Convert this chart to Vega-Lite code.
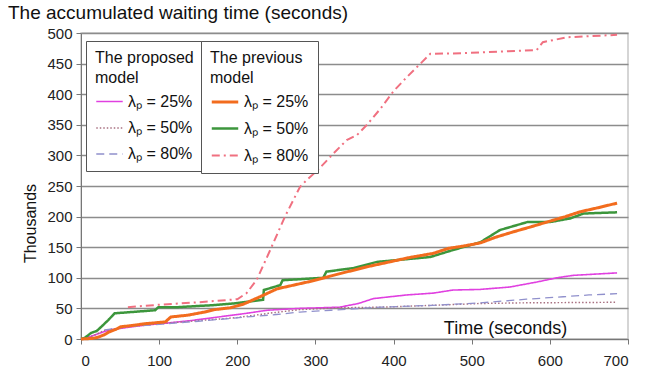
{
  "$schema": "https://vega.github.io/schema/vega-lite/v6.json",
  "width": 547,
  "height": 306,
  "autosize": {"type": "none"},
  "padding": {"left": 81, "top": 33, "right": 23, "bottom": 32},
  "background": "white",
  "title": {
    "text": "The accumulated waiting time (seconds)",
    "anchor": "start",
    "frame": "group",
    "dx": -73,
    "dy": 23,
    "offset": 11,
    "baseline": "alphabetic",
    "font": "Liberation Sans",
    "fontSize": 19,
    "fontWeight": "normal",
    "color": "#111"
  },
  "config": {
    "font": "Liberation Sans",
    "view": {"stroke": "#c8c8c8", "strokeWidth": 1.5},
    "axis": {
      "labelFont": "Liberation Sans",
      "labelFontSize": 15,
      "labelColor": "#222",
      "titleFont": "Liberation Sans",
      "titleFontWeight": "normal",
      "titleColor": "#111",
      "domainColor": "#777",
      "tickColor": "#777",
      "tickSize": 5
    },
    "legend": {
      "labelFont": "Liberation Sans",
      "titleFont": "Liberation Sans"
    }
  },
  "datasets": {
    "lines": [
      {"m": "proposed", "s": "λₚ = 25%", "t": 0, "v": 0},
      {"m": "proposed", "s": "λₚ = 25%", "t": 12, "v": 4},
      {"m": "proposed", "s": "λₚ = 25%", "t": 25, "v": 10},
      {"m": "proposed", "s": "λₚ = 25%", "t": 37, "v": 15},
      {"m": "proposed", "s": "λₚ = 25%", "t": 60, "v": 19},
      {"m": "proposed", "s": "λₚ = 25%", "t": 85, "v": 23},
      {"m": "proposed", "s": "λₚ = 25%", "t": 110, "v": 26},
      {"m": "proposed", "s": "λₚ = 25%", "t": 140, "v": 30},
      {"m": "proposed", "s": "λₚ = 25%", "t": 170, "v": 35},
      {"m": "proposed", "s": "λₚ = 25%", "t": 212, "v": 42},
      {"m": "proposed", "s": "λₚ = 25%", "t": 238, "v": 47},
      {"m": "proposed", "s": "λₚ = 25%", "t": 280, "v": 50},
      {"m": "proposed", "s": "λₚ = 25%", "t": 331, "v": 52},
      {"m": "proposed", "s": "λₚ = 25%", "t": 355, "v": 58},
      {"m": "proposed", "s": "λₚ = 25%", "t": 374, "v": 66},
      {"m": "proposed", "s": "λₚ = 25%", "t": 417, "v": 72},
      {"m": "proposed", "s": "λₚ = 25%", "t": 451, "v": 75},
      {"m": "proposed", "s": "λₚ = 25%", "t": 476, "v": 80},
      {"m": "proposed", "s": "λₚ = 25%", "t": 511, "v": 81},
      {"m": "proposed", "s": "λₚ = 25%", "t": 549, "v": 85},
      {"m": "proposed", "s": "λₚ = 25%", "t": 583, "v": 93},
      {"m": "proposed", "s": "λₚ = 25%", "t": 609, "v": 100},
      {"m": "proposed", "s": "λₚ = 25%", "t": 630, "v": 104},
      {"m": "proposed", "s": "λₚ = 25%", "t": 686, "v": 108},

      {"m": "proposed", "s": "λₚ = 50%", "t": 0, "v": 0},
      {"m": "proposed", "s": "λₚ = 50%", "t": 15, "v": 5},
      {"m": "proposed", "s": "λₚ = 50%", "t": 30, "v": 14},
      {"m": "proposed", "s": "λₚ = 50%", "t": 60, "v": 20},
      {"m": "proposed", "s": "λₚ = 50%", "t": 100, "v": 25},
      {"m": "proposed", "s": "λₚ = 50%", "t": 150, "v": 30},
      {"m": "proposed", "s": "λₚ = 50%", "t": 200, "v": 35},
      {"m": "proposed", "s": "λₚ = 50%", "t": 240, "v": 42},
      {"m": "proposed", "s": "λₚ = 50%", "t": 280, "v": 48},
      {"m": "proposed", "s": "λₚ = 50%", "t": 331, "v": 51},
      {"m": "proposed", "s": "λₚ = 50%", "t": 383, "v": 52},
      {"m": "proposed", "s": "λₚ = 50%", "t": 450, "v": 55},
      {"m": "proposed", "s": "λₚ = 50%", "t": 511, "v": 58},
      {"m": "proposed", "s": "λₚ = 50%", "t": 560, "v": 59},
      {"m": "proposed", "s": "λₚ = 50%", "t": 686, "v": 60},

      {"m": "proposed", "s": "λₚ = 80%", "t": 30, "v": 15},
      {"m": "proposed", "s": "λₚ = 80%", "t": 60, "v": 20},
      {"m": "proposed", "s": "λₚ = 80%", "t": 100, "v": 24},
      {"m": "proposed", "s": "λₚ = 80%", "t": 150, "v": 29},
      {"m": "proposed", "s": "λₚ = 80%", "t": 212, "v": 36},
      {"m": "proposed", "s": "λₚ = 80%", "t": 250, "v": 40},
      {"m": "proposed", "s": "λₚ = 80%", "t": 280, "v": 44},
      {"m": "proposed", "s": "λₚ = 80%", "t": 320, "v": 47},
      {"m": "proposed", "s": "λₚ = 80%", "t": 357, "v": 50},
      {"m": "proposed", "s": "λₚ = 80%", "t": 383, "v": 52},
      {"m": "proposed", "s": "λₚ = 80%", "t": 450, "v": 55},
      {"m": "proposed", "s": "λₚ = 80%", "t": 511, "v": 59},
      {"m": "proposed", "s": "λₚ = 80%", "t": 540, "v": 62},
      {"m": "proposed", "s": "λₚ = 80%", "t": 570, "v": 65},
      {"m": "proposed", "s": "λₚ = 80%", "t": 617, "v": 69},
      {"m": "proposed", "s": "λₚ = 80%", "t": 650, "v": 72},
      {"m": "proposed", "s": "λₚ = 80%", "t": 686, "v": 74},

      {"m": "previous", "s": "λₚ = 80%", "t": 60, "v": 52},
      {"m": "previous", "s": "λₚ = 80%", "t": 100, "v": 56},
      {"m": "previous", "s": "λₚ = 80%", "t": 150, "v": 60},
      {"m": "previous", "s": "λₚ = 80%", "t": 200, "v": 65},
      {"m": "previous", "s": "λₚ = 80%", "t": 212, "v": 75},
      {"m": "previous", "s": "λₚ = 80%", "t": 225, "v": 97},
      {"m": "previous", "s": "λₚ = 80%", "t": 242, "v": 145},
      {"m": "previous", "s": "λₚ = 80%", "t": 261, "v": 200},
      {"m": "previous", "s": "λₚ = 80%", "t": 280, "v": 248},
      {"m": "previous", "s": "λₚ = 80%", "t": 289, "v": 260},
      {"m": "previous", "s": "λₚ = 80%", "t": 303, "v": 276},
      {"m": "previous", "s": "λₚ = 80%", "t": 323, "v": 303},
      {"m": "previous", "s": "λₚ = 80%", "t": 340, "v": 325},
      {"m": "previous", "s": "λₚ = 80%", "t": 353, "v": 333},
      {"m": "previous", "s": "λₚ = 80%", "t": 366, "v": 350},
      {"m": "previous", "s": "λₚ = 80%", "t": 383, "v": 376},
      {"m": "previous", "s": "λₚ = 80%", "t": 400, "v": 405},
      {"m": "previous", "s": "λₚ = 80%", "t": 417, "v": 428},
      {"m": "previous", "s": "λₚ = 80%", "t": 436, "v": 452},
      {"m": "previous", "s": "λₚ = 80%", "t": 447, "v": 466},
      {"m": "previous", "s": "λₚ = 80%", "t": 489, "v": 467},
      {"m": "previous", "s": "λₚ = 80%", "t": 583, "v": 472},
      {"m": "previous", "s": "λₚ = 80%", "t": 591, "v": 485},
      {"m": "previous", "s": "λₚ = 80%", "t": 622, "v": 493},
      {"m": "previous", "s": "λₚ = 80%", "t": 686, "v": 497},

      {"m": "previous", "s": "λₚ = 50%", "t": 0, "v": 0},
      {"m": "previous", "s": "λₚ = 50%", "t": 5, "v": 2},
      {"m": "previous", "s": "λₚ = 50%", "t": 13, "v": 10},
      {"m": "previous", "s": "λₚ = 50%", "t": 20, "v": 13},
      {"m": "previous", "s": "λₚ = 50%", "t": 26, "v": 20},
      {"m": "previous", "s": "λₚ = 50%", "t": 35, "v": 31},
      {"m": "previous", "s": "λₚ = 50%", "t": 43, "v": 42},
      {"m": "previous", "s": "λₚ = 50%", "t": 64, "v": 44},
      {"m": "previous", "s": "λₚ = 50%", "t": 95, "v": 47},
      {"m": "previous", "s": "λₚ = 50%", "t": 99, "v": 52},
      {"m": "previous", "s": "λₚ = 50%", "t": 124, "v": 52},
      {"m": "previous", "s": "λₚ = 50%", "t": 150, "v": 54},
      {"m": "previous", "s": "λₚ = 50%", "t": 166, "v": 55},
      {"m": "previous", "s": "λₚ = 50%", "t": 195, "v": 58},
      {"m": "previous", "s": "λₚ = 50%", "t": 233, "v": 64},
      {"m": "previous", "s": "λₚ = 50%", "t": 234, "v": 80},
      {"m": "previous", "s": "λₚ = 50%", "t": 255, "v": 88},
      {"m": "previous", "s": "λₚ = 50%", "t": 258, "v": 96},
      {"m": "previous", "s": "λₚ = 50%", "t": 310, "v": 100},
      {"m": "previous", "s": "λₚ = 50%", "t": 314, "v": 110},
      {"m": "previous", "s": "λₚ = 50%", "t": 349, "v": 116},
      {"m": "previous", "s": "λₚ = 50%", "t": 379, "v": 126},
      {"m": "previous", "s": "λₚ = 50%", "t": 447, "v": 134},
      {"m": "previous", "s": "λₚ = 50%", "t": 475, "v": 145},
      {"m": "previous", "s": "λₚ = 50%", "t": 511, "v": 158},
      {"m": "previous", "s": "λₚ = 50%", "t": 536, "v": 178},
      {"m": "previous", "s": "λₚ = 50%", "t": 571, "v": 191},
      {"m": "previous", "s": "λₚ = 50%", "t": 600, "v": 191},
      {"m": "previous", "s": "λₚ = 50%", "t": 626, "v": 197},
      {"m": "previous", "s": "λₚ = 50%", "t": 643, "v": 205},
      {"m": "previous", "s": "λₚ = 50%", "t": 686, "v": 207},

      {"m": "previous", "s": "λₚ = 25%", "t": 0, "v": 0},
      {"m": "previous", "s": "λₚ = 25%", "t": 15, "v": 1},
      {"m": "previous", "s": "λₚ = 25%", "t": 22, "v": 3},
      {"m": "previous", "s": "λₚ = 25%", "t": 30, "v": 7},
      {"m": "previous", "s": "λₚ = 25%", "t": 35, "v": 11},
      {"m": "previous", "s": "λₚ = 25%", "t": 45, "v": 16},
      {"m": "previous", "s": "λₚ = 25%", "t": 51, "v": 20},
      {"m": "previous", "s": "λₚ = 25%", "t": 65, "v": 22},
      {"m": "previous", "s": "λₚ = 25%", "t": 82, "v": 25},
      {"m": "previous", "s": "λₚ = 25%", "t": 108, "v": 28},
      {"m": "previous", "s": "λₚ = 25%", "t": 115, "v": 36},
      {"m": "previous", "s": "λₚ = 25%", "t": 137, "v": 39},
      {"m": "previous", "s": "λₚ = 25%", "t": 158, "v": 44},
      {"m": "previous", "s": "λₚ = 25%", "t": 171, "v": 48},
      {"m": "previous", "s": "λₚ = 25%", "t": 191, "v": 51},
      {"m": "previous", "s": "λₚ = 25%", "t": 208, "v": 57},
      {"m": "previous", "s": "λₚ = 25%", "t": 229, "v": 69},
      {"m": "previous", "s": "λₚ = 25%", "t": 251, "v": 82},
      {"m": "previous", "s": "λₚ = 25%", "t": 293, "v": 94},
      {"m": "previous", "s": "λₚ = 25%", "t": 335, "v": 108},
      {"m": "previous", "s": "λₚ = 25%", "t": 366, "v": 118},
      {"m": "previous", "s": "λₚ = 25%", "t": 395, "v": 126},
      {"m": "previous", "s": "λₚ = 25%", "t": 420, "v": 133},
      {"m": "previous", "s": "λₚ = 25%", "t": 451, "v": 140},
      {"m": "previous", "s": "λₚ = 25%", "t": 470, "v": 148},
      {"m": "previous", "s": "λₚ = 25%", "t": 490, "v": 152},
      {"m": "previous", "s": "λₚ = 25%", "t": 511, "v": 157},
      {"m": "previous", "s": "λₚ = 25%", "t": 530, "v": 166},
      {"m": "previous", "s": "λₚ = 25%", "t": 553, "v": 175},
      {"m": "previous", "s": "λₚ = 25%", "t": 575, "v": 183},
      {"m": "previous", "s": "λₚ = 25%", "t": 596, "v": 191},
      {"m": "previous", "s": "λₚ = 25%", "t": 620, "v": 200},
      {"m": "previous", "s": "λₚ = 25%", "t": 639, "v": 208},
      {"m": "previous", "s": "λₚ = 25%", "t": 660, "v": 214},
      {"m": "previous", "s": "λₚ = 25%", "t": 686, "v": 222}
    ]
  },
  "data": {"name": "lines"},
  "encoding": {
    "x": {
      "field": "t", "type": "quantitative",
      "scale": {"domain": [0, 700], "nice": false},
      "axis": {
        "values": [0, 100, 200, 300, 400, 500, 600, 700],
        "grid": false,
        "labelPadding": 9,
        "title": "Time (seconds)",
        "titleFontSize": 18,
        "titleX": 424,
        "titleY": -6,
        "titleAlign": "center",
        "titleBaseline": "alphabetic"
      }
    },
    "y": {
      "field": "v", "type": "quantitative",
      "scale": {"domain": [0, 500], "nice": false},
      "axis": {
        "values": [0, 50, 100, 150, 200, 250, 300, 350, 400, 450, 500],
        "grid": true,
        "gridColor": "#8c8c8c",
        "gridWidth": 1.5,
        "labelPadding": 4,
        "title": "Thousands",
        "titleFontSize": 16,
        "titleX": -51,
        "titleY": 190,
        "titleAlign": "center",
        "titleBaseline": "middle"
      }
    }
  },
  "layer": [
    {
      "transform": [{"filter": "datum.m === 'proposed'"}],
      "mark": {"type": "line", "interpolate": "linear"},
      "encoding": {
        "color": {
          "field": "s", "type": "nominal", "title": ["The proposed", "model"],
          "scale": {"domain": ["λₚ = 25%", "λₚ = 50%", "λₚ = 80%"], "range": ["#e040e0", "#a87080", "#9090cc"]},
          "legend": {
            "orient": "none", "legendX": 5, "legendY": 8,
            "strokeColor": "#555", "fillColor": "white", "padding": 9, "cornerRadius": 0,
            "symbolType": "stroke", "symbolSize": 700,
            "labelFontSize": 16, "labelColor": "#111", "labelOffset": 4,
            "titleFontSize": 16, "titleFontWeight": "normal", "titleColor": "#111", "titleLineHeight": 20, "titlePadding": 1,
            "rowPadding": 4
          }
        },
        "strokeDash": {
          "field": "s", "type": "nominal", "title": ["The proposed", "model"],
          "scale": {"domain": ["λₚ = 25%", "λₚ = 50%", "λₚ = 80%"], "range": [[1, 0], [1.5, 2], [8, 5]]}
        },
        "strokeWidth": {
          "field": "s", "type": "nominal", "title": ["The proposed", "model"],
          "scale": {"domain": ["λₚ = 25%", "λₚ = 50%", "λₚ = 80%"], "range": [1.6, 1.3, 1.5]}
        }
      }
    },
    {
      "transform": [{"filter": "datum.m === 'previous'"}],
      "mark": {"type": "line", "interpolate": "linear"},
      "encoding": {
        "color": {
          "field": "s", "type": "nominal", "title": ["The previous", "model"],
          "scale": {"domain": ["λₚ = 25%", "λₚ = 50%", "λₚ = 80%"], "range": ["#f26c1e", "#3c963c", "#f07080"]},
          "legend": {
            "orient": "none", "legendX": 120, "legendY": 8,
            "strokeColor": "#555", "fillColor": "white", "padding": 9, "cornerRadius": 0,
            "symbolType": "stroke", "symbolSize": 700,
            "labelFontSize": 16, "labelColor": "#111", "labelOffset": 4,
            "titleFontSize": 16, "titleFontWeight": "normal", "titleColor": "#111", "titleLineHeight": 20, "titlePadding": 1,
            "rowPadding": 4
          }
        },
        "strokeDash": {
          "field": "s", "type": "nominal", "title": ["The previous", "model"],
          "scale": {"domain": ["λₚ = 25%", "λₚ = 50%", "λₚ = 80%"], "range": [[1, 0], [1, 0], [8, 4, 2, 4]]}
        },
        "strokeWidth": {
          "field": "s", "type": "nominal", "title": ["The previous", "model"],
          "scale": {"domain": ["λₚ = 25%", "λₚ = 50%", "λₚ = 80%"], "range": [3, 2, 1.5]}
        },
        "order": {"field": "s", "type": "nominal", "sort": "descending"}
      }
    }
  ],
  "resolve": {
    "scale": {"color": "independent", "strokeDash": "independent", "strokeWidth": "independent"}
  }
}
